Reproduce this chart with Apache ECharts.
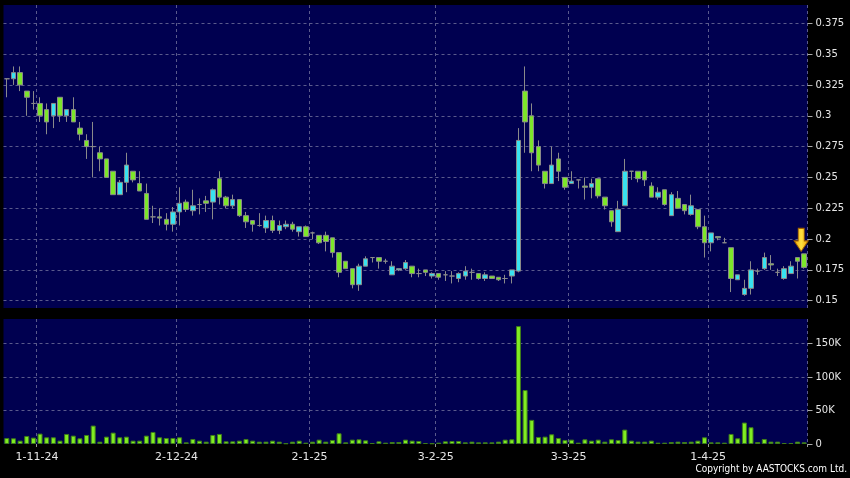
<!DOCTYPE html>
<html><head><meta charset="utf-8">
<script src="https://cdn.jsdelivr.net/npm/echarts@6/dist/echarts.min.js"></script>
<style>html,body{margin:0;padding:0;background:#000;}#c{width:850px;height:478px;}</style>
</head><body><div id="c"></div>
<script>
const dates = ['25-10-24','28-10-24','29-10-24','30-10-24','31-10-24','1-11-24','4-11-24','5-11-24','6-11-24','7-11-24',
'8-11-24','11-11-24','12-11-24','13-11-24','14-11-24','15-11-24','18-11-24','19-11-24','20-11-24','21-11-24',
'22-11-24','25-11-24','26-11-24','27-11-24','28-11-24','29-11-24','2-12-24','3-12-24','4-12-24','5-12-24',
'6-12-24','9-12-24','10-12-24','11-12-24','12-12-24','13-12-24','16-12-24','17-12-24','18-12-24','19-12-24',
'20-12-24','23-12-24','24-12-24','27-12-24','30-12-24','31-12-24','2-1-25','3-1-25','6-1-25','7-1-25',
'8-1-25','9-1-25','10-1-25','13-1-25','14-1-25','15-1-25','16-1-25','17-1-25','20-1-25','21-1-25',
'22-1-25','23-1-25','24-1-25','27-1-25','28-1-25','3-2-25','4-2-25','5-2-25','6-2-25','7-2-25',
'10-2-25','11-2-25','12-2-25','13-2-25','14-2-25','17-2-25','18-2-25','19-2-25','20-2-25','21-2-25',
'24-2-25','25-2-25','26-2-25','27-2-25','28-2-25','3-3-25','4-3-25','5-3-25','6-3-25','7-3-25',
'10-3-25','11-3-25','12-3-25','13-3-25','14-3-25','17-3-25','18-3-25','19-3-25','20-3-25','21-3-25',
'24-3-25','25-3-25','26-3-25','27-3-25','28-3-25','31-3-25','1-4-25','2-4-25','3-4-25','7-4-25',
'8-4-25','9-4-25','10-4-25','11-4-25','14-4-25','15-4-25','16-4-25','17-4-25','22-4-25','23-4-25',
'24-4-25'];
const opens = [.330,.330,.335,.320,.310,.310,.305,.300,.315,.300, .305,.290,.280,.275,.270,.265,.255,.236,.246,.255,
.245,.237,.218,.218,.216,.212,.222,.230,.223,.228, .231,.230,.249,.234,.227,.232,.219,.215,.211,.209,
.215,.207,.210,.212,.206,.210,.205,.203,.203,.201, .189,.182,.176,.163,.178,.185,.185,.182,.171,.175,
.176,.178,.172,.175,.170,.172,.171,.170,.168,.170, .173,.172,.168,.170,.169,.168,.170,.174,.320,.300,
.275,.255,.245,.265,.250,.245,.248,.243,.242,.249, .234,.223,.206,.227,.255,.255,.255,.243,.234,.240,
.219,.233,.228,.220,.224,.210,.197,.202,.197,.193, .167,.155,.160,.174,.176,.180,.173,.168,.172,.185,
.188];
const closes = [.330,.335,.325,.315,.310,.300,.295,.310,.300,.305, .295,.285,.275,.275,.265,.250,.236,.246,.260,.248,
.239,.216,.218,.217,.212,.222,.229,.224,.227,.228, .229,.240,.234,.227,.232,.219,.214,.212,.211,.215,
.207,.211,.212,.208,.210,.202,.205,.197,.198,.189, .173,.176,.163,.178,.184,.185,.182,.182,.178,.176,
.181,.172,.172,.173,.172,.169,.171,.170,.172,.174, .173,.168,.171,.168,.167,.168,.175,.280,.295,.270,
.260,.245,.260,.255,.242,.247,.248,.242,.245,.235, .227,.214,.224,.255,.255,.249,.248,.234,.238,.228,
.236,.225,.223,.227,.210,.197,.205,.201,.197,.168, .171,.160,.175,.174,.185,.179,.173,.176,.178,.182,
.177];
const lows = [.315,.325,.320,.300,.305,.295,.285,.290,.295,.295, .295,.280,.265,.250,.255,.250,.236,.236,.238,.246,
.239,.216,.213,.211,.207,.206,.211,.222,.219,.220, .222,.216,.228,.225,.225,.218,.209,.206,.210,.205,
.205,.204,.208,.206,.202,.202,.200,.196,.190,.185, .169,.176,.160,.158,.178,.181,.176,.180,.171,.174,
.175,.169,.169,.170,.168,.167,.166,.164,.165,.167, .167,.167,.166,.168,.166,.164,.164,.173,.270,.255,
.255,.241,.245,.247,.240,.245,.241,.232,.233,.233, .224,.210,.206,.227,.248,.246,.243,.234,.232,.227,
.219,.225,.220,.219,.208,.185,.190,.199,.197,.157, .167,.154,.155,.171,.175,.175,.170,.167,.172,.168,
.176];
const highs = [.330,.340,.340,.320,.320,.315,.310,.310,.315,.305, .315,.295,.285,.295,.275,.265,.255,.248,.270,.255,
.255,.245,.227,.225,.221,.226,.242,.232,.240,.233, .235,.241,.255,.235,.236,.232,.222,.215,.221,.219,
.219,.215,.215,.214,.210,.211,.206,.203,.206,.201, .189,.182,.176,.180,.186,.185,.185,.184,.182,.176,
.183,.178,.176,.175,.173,.172,.174,.174,.173,.178, .176,.172,.173,.170,.169,.171,.175,.290,.340,.310,
.280,.255,.275,.270,.250,.255,.248,.250,.249,.249, .234,.223,.231,.265,.255,.255,.255,.246,.242,.240,
.238,.239,.228,.236,.224,.219,.205,.202,.201,.193, .171,.167,.182,.176,.189,.187,.176,.178,.182,.185,
.188];
const volumes = [9000,8500,5000,12000,9500,15500,10000,10000,5000,15000,
12500,8500,13500,27500,3500,11000,17000,10000,11000,5000,
5000,12500,18000,10000,9000,9000,10000,2500,7500,5000,
3500,13500,15000,4000,4000,5000,7500,5000,3500,3500,
5000,3500,1000,3500,5000,2000,3500,6500,3500,6000,
16000,2500,6500,7000,5500,1500,4000,2000,3000,3000,
6500,5000,4500,1500,1000,2000,4000,4500,4500,2500,
3500,2500,2500,2500,3500,6500,7000,176000,80500,36000,
10500,11000,14500,9000,6000,6500,2000,7000,5000,6500,
3500,7000,6000,21500,5000,3500,3500,5000,2000,2000,
3000,3500,3000,3500,5000,10000,2500,2500,2000,15000,
8500,32000,25000,3000,7500,3500,3500,1500,1500,3500,
2500];
const tickLabels = ['1-11-24','2-12-24','2-1-25','3-2-25','3-3-25','1-4-25'];
const priceMin = 0.15, priceMax = 0.375, priceStep = 0.025;
const volStep = 50000;

const FONT = 'DejaVu Sans';
const GRID_LINE = {show:true, lineStyle:{color:'#5a5a8c', type:[3,3], width:1}};
const isTick = (i, v) => tickLabels.indexOf(v) >= 0;
const candles = dates.map((d,i)=>[opens[i], closes[i], lows[i], highs[i]]);
const last = dates.length - 1;

// panel geometry
const L = 3.5, W = 804;
const pTop = 5, pH = 303;          // full price panel
const lTop = 23.3, lH = 277.4;     // 0.15..0.375 span
const pxPerUnit = lH / (priceMax - priceMin);
const fullMax = priceMax + (lTop - pTop) / pxPerUnit;
const fullMin = priceMin - (pTop + pH - lTop - lH) / pxPerUnit;
const vTop = 319, vH = 125;
const vPxPer50k = 33.5;
const volMax = vH / vPxPer50k * volStep;

const chart = echarts.init(document.getElementById('c'), null, {renderer:'canvas'});
chart.setOption({
  animation:false,
  backgroundColor:'#000',
  grid:[
    {left:L, top:pTop, width:W, height:pH, show:true, backgroundColor:'#000050', borderWidth:0},
    {left:L, top:lTop, width:W, height:lH, show:false},
    {left:L, top:vTop, width:W, height:vH, show:true, backgroundColor:'#000050', borderWidth:0}
  ],
  xAxis:[
    {gridIndex:0, type:'category', data:dates, boundaryGap:true,
     axisLine:{show:false}, axisTick:{show:false}, axisLabel:{show:false},
     splitLine:Object.assign({interval:isTick}, GRID_LINE)},
    {gridIndex:1, type:'category', data:dates, show:false},
    {gridIndex:2, type:'category', data:dates, boundaryGap:true,
     axisLine:{show:false},
     axisTick:{show:true, interval:isTick, length:3, lineStyle:{color:'#999'}},
     axisLabel:{show:true, interval:isTick, color:'#e6e6e6', fontSize:11, fontFamily:FONT, margin:8, padding:[0,6,0,0]},
     splitLine:Object.assign({interval:isTick}, GRID_LINE)}
  ],
  yAxis:[
    {gridIndex:0, type:'value', min:fullMin, max:fullMax, show:false, splitLine:{show:false}},
    {gridIndex:1, type:'value', position:'right', min:priceMin, max:priceMax, interval:priceStep,
     axisLine:{show:false}, axisTick:{show:true, length:5, lineStyle:{color:'#aaa'}},
     axisLabel:{color:'#e6e6e6', fontSize:10, fontFamily:FONT, margin:8},
     splitLine:GRID_LINE},
    {gridIndex:2, type:'value', position:'right', min:0, max:volMax, interval:volStep,
     axisLine:{show:false}, axisTick:{show:true, length:5, lineStyle:{color:'#aaa'}},
     axisLabel:{color:'#e6e6e6', fontSize:10, fontFamily:FONT, margin:8, showMaxLabel:false,
       formatter:v=> v===0 ? '0' : (v % volStep === 0 ? (v/1000)+'K' : '')},
     splitLine:Object.assign({showMaxLine:false, showMinLine:false}, GRID_LINE)}
  ],
  series:[
    {type:'candlestick', xAxisIndex:0, yAxisIndex:0, data:candles, barWidth:5,
     itemStyle:{color:'#38e2f0', color0:'#7de62a', borderColor:'#8a8a8a', borderColor0:'#8a8a8a', borderColorDoji:'#8a8a8a', borderWidth:1},
     markPoint:{
       symbol:'path://M4,0 L10,0 L10,12 L14,12 L7,22 L0,12 L4,12 Z',
       symbolSize:[14,23], symbolOffset:[-3,-14], silent:true, label:{show:false},
       itemStyle:{color:new echarts.graphic.LinearGradient(0,0,1,0,[{offset:0,color:'#f0a000'},{offset:0.5,color:'#ffe040'},{offset:1,color:'#f0a000'}]), borderColor:'#a06000', borderWidth:1},
       data:[{coord:[dates[last], highs[last]]}]
     }},
    {type:'bar', xAxisIndex:2, yAxisIndex:2, data:volumes, barWidth:5,
     itemStyle:{color:'#80ec22', borderColor:'#3e7c1a', borderWidth:1}}
  ],
  graphic:[
    {type:'text', right:3, top:464, style:{text:'Copyright by AASTOCKS.com Ltd.', fill:'#ffffff', font:'10px "DejaVu Sans Condensed", "DejaVu Sans"'}}
  ]
});
</script></body></html>
